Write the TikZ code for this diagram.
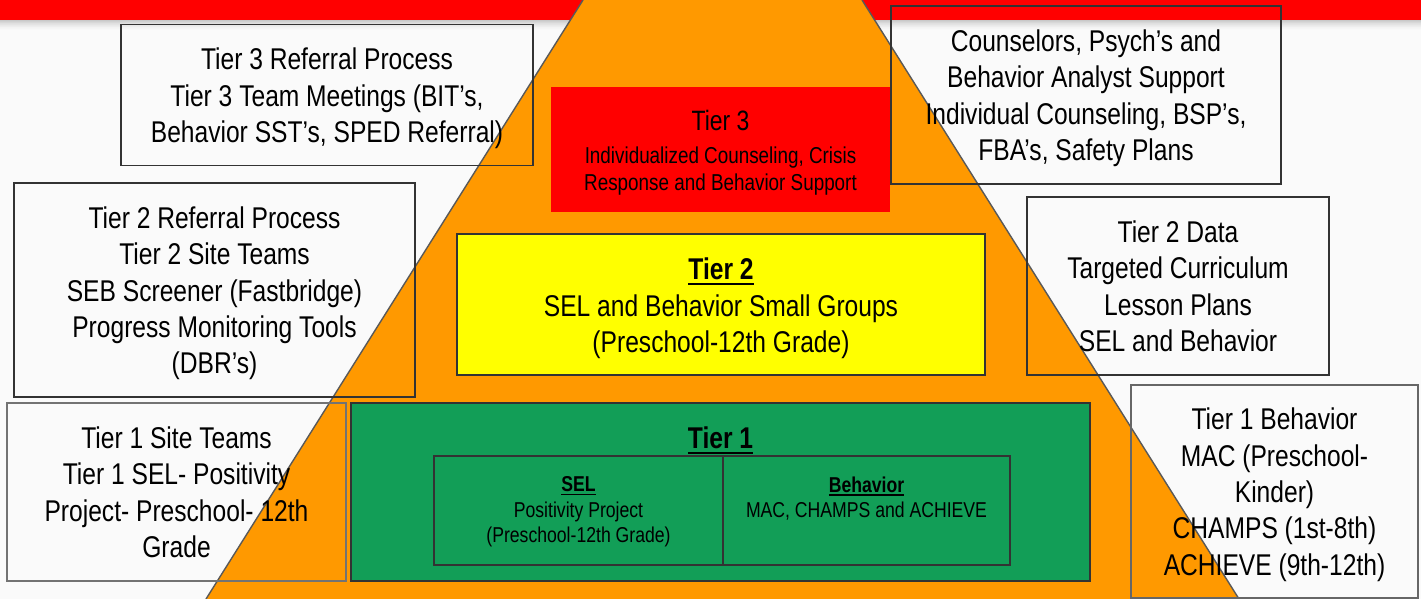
\documentclass[tikz,border=0pt]{standalone}
\usepackage{fontspec}
\setmainfont{Liberation Sans}[FakeStretch=0.82]
\usetikzlibrary{positioning}
\definecolor{pagebg}{HTML}{FAFAFA}
\definecolor{bandred}{HTML}{FF0000}
\definecolor{pyrorange}{HTML}{FF9900}
\definecolor{tieryellow}{HTML}{FFFF00}
\definecolor{tiergreen}{RGB}{18,158,87}
\newsavebox\ulbox
\newcommand\tierline[1]{\sbox\ulbox{#1}\rlap{\rule[-0.18em]{\wd\ulbox}{0.07em}}\usebox\ulbox}
\newcommand\sidetop{\rule{0pt}{28.4pt}}
\newcommand\sidestrut{\rule[-6.4pt]{0pt}{6.4pt}}
\newcommand\redstrut{\rule[-4.9pt]{0pt}{4.9pt}}

\begin{document}
\begin{tikzpicture}
[x=1pt,y=-1pt,
 sidebox/.style={draw=black!80,line width=1.3pt,align=center,inner sep=0pt,
   font=\fontsize{30}{36.4}\selectfont,execute at end node=\sidestrut},
 tierbox/.style={draw=black!80,line width=1.3pt,align=center,inner sep=0pt},
 innertext/.style={align=center,inner sep=0pt,font=\fontsize{21.5}{25.5}\selectfont},
 edge/.style={draw=black!65,line width=1.4pt}]
\useasboundingbox (0,0) rectangle (1421,599);
\fill[pagebg] (0,0) rectangle (1421,599);
% red band and its shadow
\fill[bandred] (0,0) rectangle (1421,20);
\foreach \i/\s in {0/20,1/17,2/14,3/11,4/9,5/7,6/5,7/3,8/2,9/1}
  \fill[black!\s!pagebg] (0,20+\i) rectangle (1421,21+\i);
% pyramid
\coordinate (topl) at (583,0);
\coordinate (topr) at (862,0);
\coordinate (botr) at (1239,599);
\coordinate (botl) at (206,599);
\fill[pyrorange] (topl) -- (topr) -- (botr) -- (botl) -- cycle;
\draw[edge] (topl) -- (botl);
\draw[edge] (topr) -- (botr);
% side boxes
\node[sidebox,minimum width=412pt,minimum height=141pt] (t3ref) at (327,95)
  {\sidetop Tier 3 Referral Process\\Tier 3 Team Meetings (BIT’s,\\Behavior SST’s, SPED Referral)};
\node[sidebox,minimum width=390pt,minimum height=178pt] (couns) at (1086,95)
  {\sidetop Counselors, Psych’s and\\Behavior Analyst Support\\Individual Counseling, BSP’s,\\FBA’s, Safety Plans};
\node[sidebox,minimum width=401pt,minimum height=214pt] (t2ref) at (214.5,290)
  {\sidetop Tier 2 Referral Process\\Tier 2 Site Teams\\SEB Screener (Fastbridge)\\Progress Monitoring Tools\\(DBR’s)};
\node[sidebox,minimum width=302pt,minimum height=178pt] (t2data) at (1178,286)
  {\sidetop Tier 2 Data\\Targeted Curriculum\\Lesson Plans\\SEL and Behavior};
\node[sidebox,draw=black!55,minimum width=339pt,minimum height=178pt] (t1site) at (176.5,492)
  {\sidetop Tier 1 Site Teams\\Tier 1 SEL- Positivity\\Project- Preschool- 12th\\Grade};
\node[sidebox,draw=black!60,minimum width=287pt,minimum height=213pt] (t1beh) at (1274.5,491.5)
  {\sidetop Tier 1 Behavior\\MAC (Preschool-\\Kinder)\\CHAMPS (1st-8th)\\ACHIEVE (9th-12th)};
% tiers
\node[tierbox,draw=none,fill=bandred,minimum width=339pt,minimum height=125pt,
  font=\fontsize{23}{27}\selectfont] (tier3) at (720.5,149.5)
  {\rule{0pt}{26pt}{\fontsize{28}{30}\selectfont Tier 3}\\[6pt]Individualized Counseling, Crisis\\Response and Behavior Support\redstrut};
\node[tierbox,fill=tieryellow,minimum width=528pt,minimum height=141pt,
  font=\fontsize{30}{36.4}\selectfont] (tier2) at (721,304.5)
  {\rule{0pt}{30pt}\tierline{\textbf{Tier 2}}\\SEL and Behavior Small Groups\\(Preschool-12th Grade)\sidestrut};
\node[tierbox,fill=tiergreen,minimum width=739pt,minimum height=178pt] (tier1) at (720.5,492) {};
\node[align=center,inner sep=0pt,font=\fontsize{30}{36}\selectfont,below=24pt of tier1.north] (tier1title)
  {\tierline{\textbf{Tier 1}}};
\node[tierbox,minimum width=289pt,minimum height=109pt] (selbox) at (578.5,510.5) {};
\node[tierbox,minimum width=287pt,minimum height=109pt] (behbox) at (866.5,510.5) {};
\node[innertext,below=21pt of selbox.north] (seltext)
  {\tierline{\textbf{SEL}}\\Positivity Project\\(Preschool-12th Grade)};
\node[innertext,below=21pt of behbox.north] (behtext)
  {\tierline{\textbf{Behavior}}\\MAC, CHAMPS and ACHIEVE};
\end{tikzpicture}
\end{document}
